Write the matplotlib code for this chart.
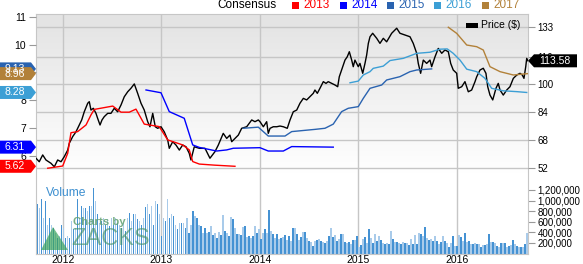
import numpy as np
import matplotlib.pyplot as plt
from matplotlib.patches import Polygon, Rectangle

plt.rcParams['font.family'] = ['Liberation Sans', 'DejaVu Sans']

# ---- data (x = decimal year) ----
price = [
    (2011.726, 57.6), (2011.759, 55.6), (2011.794, 59.5), (2011.827, 56.6), (2011.878, 54.7),
    (2011.912, 52.7), (2011.946, 56.6), (2011.980, 55.6), (2012.013, 58.5), (2012.048, 62.3),
    (2012.064, 66.2), (2012.098, 70.0), (2012.132, 72.8), (2012.165, 76.7), (2012.190, 79.6),
    (2012.216, 84.3), (2012.251, 89.2), (2012.267, 90.1), (2012.284, 85.3), (2012.308, 86.3),
    (2012.335, 83.4), (2012.352, 80.5), (2012.376, 76.7), (2012.396, 79.6), (2012.419, 81.5),
    (2012.454, 83.4), (2012.487, 83.4), (2012.521, 86.3), (2012.555, 84.3), (2012.589, 88.2),
    (2012.622, 92.9), (2012.657, 95.8), (2012.690, 97.8), (2012.724, 100.3), (2012.758, 94.9),
    (2012.792, 89.2), (2012.825, 85.3), (2012.860, 78.6), (2012.883, 75.7), (2012.911, 83.4),
    (2012.937, 75.7), (2012.961, 74.8), (2012.995, 75.7), (2013.028, 72.8), (2013.063, 68.1),
    (2013.079, 63.3), (2013.114, 67.1), (2013.147, 65.2), (2013.181, 62.3), (2013.215, 65.2),
    (2013.249, 64.2), (2013.282, 60.4), (2013.299, 56.6), (2013.333, 64.2), (2013.384, 63.3),
    (2013.442, 63.3), (2013.492, 57.6), (2013.543, 61.4), (2013.577, 65.2), (2013.627, 71.9),
    (2013.662, 69.0), (2013.695, 70.9), (2013.713, 67.1), (2013.746, 69.0), (2013.780, 70.9),
    (2013.814, 74.8), (2013.865, 75.7), (2013.916, 79.6), (2013.949, 78.6), (2013.983, 79.6),
    (2014.000, 78.6), (2014.034, 75.7), (2014.068, 78.6), (2014.084, 71.9), (2014.102, 74.8),
    (2014.135, 75.7), (2014.170, 75.7), (2014.203, 76.1), (2014.237, 75.7), (2014.277, 74.8),
    (2014.305, 79.6), (2014.338, 84.3), (2014.373, 85.3), (2014.406, 89.2), (2014.440, 92.0),
    (2014.474, 91.1), (2014.508, 93.0), (2014.541, 94.9), (2014.558, 96.8), (2014.582, 94.9),
    (2014.609, 97.8), (2014.643, 101.6), (2014.670, 100.6), (2014.693, 101.6), (2014.728, 100.6),
    (2014.761, 99.7), (2014.789, 98.7), (2014.805, 104.4), (2014.829, 108.3), (2014.863, 114.0),
    (2014.886, 115.9), (2014.907, 118.8), (2014.931, 114.0), (2014.947, 110.2), (2014.964, 114.0),
    (2014.998, 110.2), (2015.015, 112.1), (2015.043, 106.4), (2015.066, 112.1), (2015.083, 116.9),
    (2015.100, 123.6), (2015.117, 127.4), (2015.144, 129.4), (2015.185, 126.5), (2015.218, 123.6),
    (2015.252, 126.5), (2015.286, 124.5), (2015.337, 129.4), (2015.388, 132.3), (2015.421, 129.4),
    (2015.472, 128.4), (2015.523, 127.4), (2015.556, 123.6), (2015.591, 117.9), (2015.607, 112.1),
    (2015.631, 106.4), (2015.658, 114.0), (2015.692, 112.1), (2015.726, 114.0), (2015.743, 110.2),
    (2015.777, 115.9), (2015.810, 120.7), (2015.845, 117.9), (2015.878, 119.8), (2015.912, 118.8),
    (2015.936, 112.1), (2015.962, 108.3), (2015.997, 106.4), (2016.013, 97.8), (2016.048, 98.7),
    (2016.081, 101.6), (2016.115, 95.8), (2016.149, 96.8), (2016.183, 101.6), (2016.200, 104.4),
    (2016.234, 108.3), (2016.267, 109.3), (2016.294, 106.4), (2016.312, 98.7), (2016.335, 93.9),
    (2016.363, 91.1), (2016.396, 97.8), (2016.419, 100.6), (2016.437, 96.8), (2016.470, 93.9),
    (2016.505, 96.8), (2016.538, 98.7), (2016.572, 103.5), (2016.607, 105.4), (2016.640, 106.4),
    (2016.663, 105.4), (2016.680, 103.5), (2016.698, 110.2), (2016.708, 115.0), (2016.721, 113.58),
]

eps_2013 = [
    (2011.845, 5.55), (2011.997, 5.63), (2012.048, 6.09), (2012.081, 6.83), (2012.149, 6.87),
    (2012.234, 7.11), (2012.284, 7.47), (2012.318, 7.67), (2012.505, 7.79), (2012.589, 7.57),
    (2012.673, 7.57), (2012.741, 7.68), (2012.825, 7.14), (2012.977, 7.05), (2013.063, 6.57),
    (2013.215, 6.39), (2013.282, 6.21), (2013.317, 5.79), (2013.384, 5.70), (2013.543, 5.66),
    (2013.746, 5.62),
]
eps_2014 = [
    (2012.843, 8.37), (2012.995, 8.27), (2013.079, 7.59), (2013.231, 7.35), (2013.317, 6.39),
    (2013.384, 6.30), (2013.560, 6.17), (2013.662, 6.21), (2013.729, 6.27), (2014.000, 6.29),
    (2014.084, 6.17), (2014.237, 6.17), (2014.322, 6.33), (2014.744, 6.31),
]
eps_2015 = [
    (2013.830, 6.99), (2013.983, 7.03), (2014.084, 6.71), (2014.254, 6.71), (2014.322, 6.87),
    (2014.558, 6.95), (2014.660, 6.99), (2014.744, 7.14), (2014.829, 7.59), (2014.896, 7.71),
    (2014.998, 7.77), (2015.049, 8.07), (2015.117, 8.43), (2015.236, 8.55), (2015.286, 8.73),
    (2015.421, 8.85), (2015.523, 9.03), (2015.591, 9.09), (2015.743, 9.13),
]
eps_2016 = [
    (2014.914, 8.63), (2014.998, 8.69), (2015.049, 8.91), (2015.117, 9.03), (2015.150, 9.15),
    (2015.252, 9.23), (2015.320, 9.43), (2015.455, 9.51), (2015.591, 9.69), (2015.726, 9.73),
    (2015.827, 9.84), (2015.901, 9.85), (2015.962, 9.69), (2016.030, 9.45), (2016.099, 9.12),
    (2016.200, 9.03), (2016.284, 8.79), (2016.352, 8.43), (2016.470, 8.34), (2016.607, 8.31),
    (2016.708, 8.28),
]
eps_2017 = [
    (2015.912, 10.63), (2015.997, 10.41), (2016.099, 9.99), (2016.200, 9.93), (2016.267, 9.81),
    (2016.335, 9.21), (2016.437, 9.03), (2016.572, 8.91), (2016.690, 8.95), (2016.721, 8.96),
]

# weekly volume, thousands of shares
volume_k = [
    938, 862, 1019, 674, 987, 547, 674, 547, 485, 390, 296, 327, 547, 485, 296, 327, 296, 610,
    453, 485, 1019, 674, 893, 862, 862, 798, 893, 893, 1240, 987, 736, 579, 610, 674, 547, 642,
    515, 674, 547, 674, 579, 547, 485, 579, 421, 674, 768, 610, 736, 736, 642, 610, 547, 674,
    874, 925, 736, 893, 547, 987, 925, 736, 327, 674, 610, 1019, 674, 736, 704, 547, 453, 579,
    579, 579, 485, 674, 390, 547, 798, 704, 674, 547, 515, 390, 485,
    390, 402, 528, 340, 390, 296, 409, 340, 723, 421, 390, 321, 685, 642, 485, 371, 371, 340,
    496, 528, 315, 321, 296, 327, 528, 390, 466, 283, 390, 453, 390, 830, 434, 371, 296, 371,
    283, 296, 315, 340, 251, 321, 245, 485, 485, 371, 264, 308, 409, 409, 296, 232, 213, 138,
    245, 251, 277, 245, 213, 189, 245, 327, 472, 308, 340, 245, 283, 359, 359, 220, 202, 213,
    183, 264, 264, 327, 119, 151, 283, 308, 202, 466,
    296, 202, 371, 245, 327, 264, 202, 170, 189, 170, 421, 277, 213, 220, 202, 183, 220, 202,
    202, 151, 283, 183, 346, 183, 390, 359, 327, 503, 296, 264, 283, 245, 327, 245, 183, 220,
    327, 232, 202, 119, 202, 321, 138, 138, 346, 308, 245, 384, 220, 232, 170, 170, 202, 170,
    183, 119, 151, 151, 170, 359, 220, 220, 202, 138, 119, 189, 202, 189, 119, 138, 151, 264,
    170, 138, 126, 126, 126, 170, 390,
]
vol_first, vol_last = 2011.74, 2016.71

years = [2012, 2013, 2014, 2015, 2016]
price_ticks = [52, 68, 84, 100, 116, 133]
eps_ticks = [6, 7, 8, 9, 10, 11]
vol_ticks = [200000, 400000, 600000, 800000, 1000000, 1200000]
last_price = 113.58

series = [('2013', eps_2013, '#ff0000'), ('2014', eps_2014, '#0000ff'),
          ('2015', eps_2015, '#2a63b0'), ('2016', eps_2016, '#3c9fd5'),
          ('2017', eps_2017, '#b28139')]

# ---- figure ----
W, H = 583, 264
fig = plt.figure(figsize=(W / 100, H / 100), dpi=100)
rect = [36 / W, 10 / H, 492 / W, 240 / H]
grid_c = '#c6c6c6'

# light grey shading behind the price panel (fades to white)
shade = np.ones((240, 492, 3))
shade[:160] = np.linspace(0.89, 1.0, 160)[:, None, None]
fig.figimage(shade, xo=36, yo=10, zorder=-1)

ax = fig.add_axes(rect)
ax.patch.set_visible(False)
ax_p = ax.twinx()
ax_e = ax.twinx()

# volume
vol_t = np.linspace(vol_first, vol_last, len(volume_k))
vol = np.array(volume_k) * 1000
cols = ['#4592d3' if i % 2 == 0 else '#a9cbea' for i in range(len(vol))]
ax.bar(vol_t, vol, width=0.015, color=cols, linewidth=0, zorder=2)
for yr in years:
    ax.axvline(yr, color=grid_c, lw=1, zorder=0)
ax.set_xlim(2011.726, 2016.721)
ax.set_ylim(-9400, 4519000)
ax.yaxis.tick_right()
ax.set_yticks(vol_ticks)
ax.set_yticklabels([f'{v:,}' for v in vol_ticks])
ax.set_xticks(years)
ax.set_xticklabels([str(y) for y in years])
ax.tick_params(axis='x', length=0, pad=0.5, labelsize=7.5)
ax.tick_params(axis='y', length=5, width=0.8, color='#999999', pad=2, labelsize=7)
for s in ax.spines.values():
    s.set_color(grid_c)

# price
pt, pv = np.array(price).T
for v in price_ticks:
    ax_p.axhline(v, color=grid_c, lw=1, zorder=0)
ax_p.plot(pt, pv, color='black', lw=1.0, zorder=3)
ax_p.set_ylim(2.59, 140.47)
ax_p.set_yticks(price_ticks)
ax_p.tick_params(axis='y', length=5, width=0.8, color='#999999', pad=2, labelsize=7)
for s in ax_p.spines.values():
    s.set_visible(False)

# consensus EPS
for name, pts, c in series:
    t, v = np.array(pts).T
    ax_e.plot(t, v, color=c, lw=1.0)
ax_e.set_ylim(2.459, 11.108)
ax_e.yaxis.tick_left()
ax_e.set_yticks(eps_ticks)
ax_e.tick_params(axis='y', length=5, width=0.8, color='#999999', pad=2, labelsize=7.5)
for s in ax_e.spines.values():
    s.set_visible(False)
ax.set_xlim(2011.726, 2016.721)


def fy(axis, value):
    return axis.transData.transform((2014, value))[1] / H


# value tags on the left
th = 6.5 / H
for name, pts, c in [series[2], series[4], series[3], series[1], series[0]]:
    v = pts[-1][1]
    y = fy(ax_e, v)
    fig.add_artist(Polygon([(0, y - th), (31 / W, y - th), (36 / W, y), (31 / W, y + th), (0, y + th)],
                           closed=True, transform=fig.transFigure, facecolor=c, edgecolor='none', zorder=10))
    fig.text(15 / W, y, f'{v:.2f}', color='white', ha='center', va='center', fontsize=7.5, zorder=11)

# price tag on the right
y = fy(ax_p, last_price)
fig.add_artist(Polygon([(528 / W, y), (534 / W, y - th), (577 / W, y - th), (577 / W, y + th), (534 / W, y + th)],
                       closed=True, transform=fig.transFigure, facecolor='black', edgecolor='none', zorder=10))
fig.text(555 / W, y, f'{last_price:.2f}', color='white', ha='center', va='center', fontsize=7.5, zorder=11)

# top legend
ly = (H - 5) / H
fig.text(217 / W, ly, 'Consensus', fontsize=8.5, va='center')
sq_x = [292, 340, 387, 434, 482]
for (name, pts, c), sx in zip(series, sq_x):
    fig.add_artist(Rectangle((sx / W, ly - 3.5 / H), 7 / W, 7 / H, transform=fig.transFigure,
                             facecolor=c, edgecolor='none'))
    fig.text((sx + 11) / W, ly, name, color=c, fontsize=8.5, va='center')

# price legend
fig.add_artist(Rectangle((466 / W, (H - 27.5) / H), 12 / W, 5 / H, transform=fig.transFigure,
                         facecolor='black', edgecolor='none'))
fig.text(481 / W, (H - 25) / H, 'Price ($)', fontsize=7.5, va='center')

# volume label and watermark
fig.text(46 / W, (H - 193) / H, 'Volume', color='#3d8fd0', fontsize=8.7, va='center')
fig.add_artist(Polygon([(41 / W, (H - 250) / H), (68 / W, (H - 250) / H), (53 / W, (H - 227) / H)],
                       closed=True, transform=fig.transFigure, facecolor='#3aa35a', alpha=0.7,
                       edgecolor='none', zorder=5))
fig.text(73 / W, (H - 222) / H, 'Charts by', color='#5f9f6f', alpha=0.85, fontsize=8.2,
         fontweight='bold', va='center', zorder=5)
fig.text(71 / W, (H - 239) / H, 'ZACKS', color='#3f8f5f', alpha=0.6, fontsize=17,
         va='center', zorder=5)

fig.savefig('out.png', dpi=100)
